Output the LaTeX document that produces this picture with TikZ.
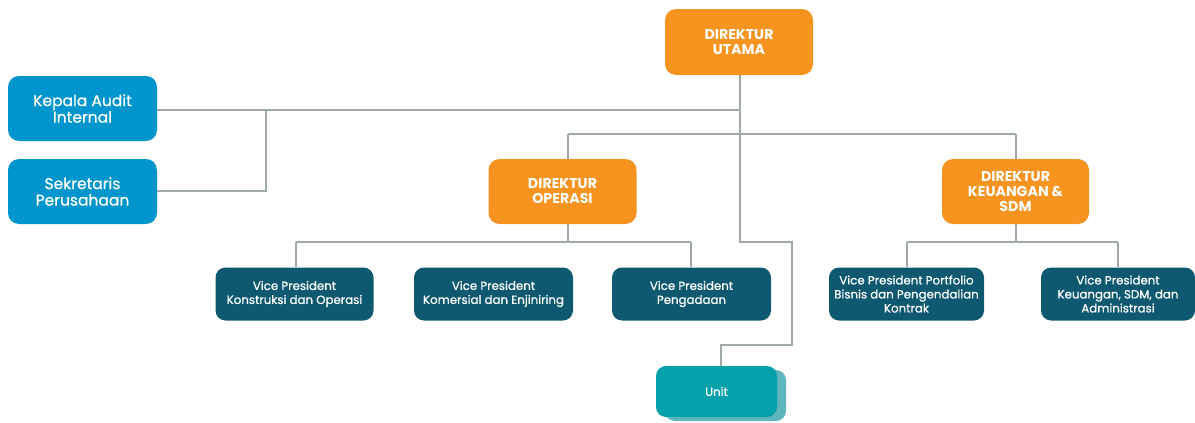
\documentclass[tikz,border=0pt]{standalone}
\usepackage{fontspec}
\setmainfont{Poppins}
\newfontfamily\medfont[FakeBold=0.6]{Poppins}
\definecolor{dirorange}{HTML}{F7941F}
\definecolor{staffblue}{HTML}{0096CD}
\definecolor{vpteal}{HTML}{0E596F}
\definecolor{unitteal}{HTML}{05A0A9}
\definecolor{unitshadow}{HTML}{5FB6BD}
\definecolor{linegray}{HTML}{A0AAAA}
\begin{document}
\begin{tikzpicture}[x=1pt,y=-1pt,
  box/.style={rounded corners=11pt, align=center, text=white, inner sep=0pt},
  dirbox/.style={box, fill=dirorange, minimum width=148pt, minimum height=66pt, font=\fontsize{14.2}{15}\selectfont\bfseries},
  staffbox/.style={box, fill=staffblue, minimum width=149pt, minimum height=65pt, font=\medfont\fontsize{15.5}{16.5}\selectfont},
  vpbox/.style={box, fill=vpteal, minimum height=53pt, rounded corners=10pt, font=\medfont\fontsize{11.8}{14}\selectfont},
  unitbox/.style={box, minimum width=121pt, minimum height=51pt, rounded corners=10pt, font=\medfont\fontsize{11.8}{14}\selectfont},
  conn/.style={draw=linegray, line width=2.4pt}]
\useasboundingbox (0,0) rectangle (1195,423);
% nodes
\node[dirbox] (du) at (739,42) {DIREKTUR\\UTAMA};
\node[staffbox] (ka) at (82.5,108.5) {Kepala Audit\\Internal};
\node[staffbox] (sp) at (82.5,191.5) {Sekretaris\\Perusahaan};
\node[dirbox, minimum height=65pt] (do) at (562.5,191.5) {DIREKTUR\\OPERASI};
\node[dirbox, minimum width=147pt, minimum height=65pt] (dk) at (1015.5,191.5) {DIREKTUR\\KEUANGAN \&\\SDM};
\node[vpbox, minimum width=158pt] (vp1) at (294.5,294) {Vice President\\Konstruksi dan Operasi};
\node[vpbox, minimum width=159pt] (vp2) at (493.5,294) {Vice President\\Komersial dan Enjiniring};
\node[vpbox, minimum width=159pt] (vp3) at (691.5,294) {Vice President\\Pengadaan};
\node[vpbox, minimum width=155pt] (vp4) at (906.5,294) {Vice President Portfolio\\Bisnis dan Pengendalian\\Kontrak};
\node[vpbox, minimum width=154pt] (vp5) at (1118,294) {Vice President\\Keuangan, SDM, dan\\Administrasi};
\node[unitbox, fill=unitshadow] (unitb) at (725.5,395.5) {};
\node[unitbox, fill=unitteal] (unit) at (716.5,391.5) {Unit};
% coordinates
\coordinate (t1) at (740,110);
\coordinate (s1) at (266,110);
\coordinate (s2) at (266,191);
\coordinate (h1) at (568,134);
\coordinate (h2) at (1016,134);
\coordinate (t2) at (740,242);
\coordinate (t3) at (792,242);
\coordinate (t4) at (792,345);
\coordinate (t5) at (721,345);
\coordinate (o1) at (568,242);
\coordinate (o2) at (296,242);
\coordinate (o3) at (691,242);
\coordinate (k1) at (1016,242);
\coordinate (k2) at (907,242);
\coordinate (k3) at (1118,242);
% connectors
\draw[conn] (ka.east |- t1) -- (t1);
\draw[conn] (sp.east |- s2) -- (s2) -- (s1);
\draw[conn] (du.south -| t1) -- (t2) -- (t3) -- (t4) -- (t5) -- (unit.north -| t5);
\draw[conn] (h1) -- (h2);
\draw[conn] (h1) -- (do.north -| h1);
\draw[conn] (h2) -- (dk.north -| h2);
\draw[conn] (do.south -| o1) -- (o1);
\draw[conn] (o2) -- (o3);
\draw[conn] (o2) -- (vp1.north -| o2);
\draw[conn] (o3) -- (vp3.north -| o3);
\draw[conn] (dk.south -| k1) -- (k1);
\draw[conn] (k2) -- (k3);
\draw[conn] (k2) -- (vp4.north -| k2);
\draw[conn] (k3) -- (vp5.north -| k3);
\end{tikzpicture}
\end{document}
